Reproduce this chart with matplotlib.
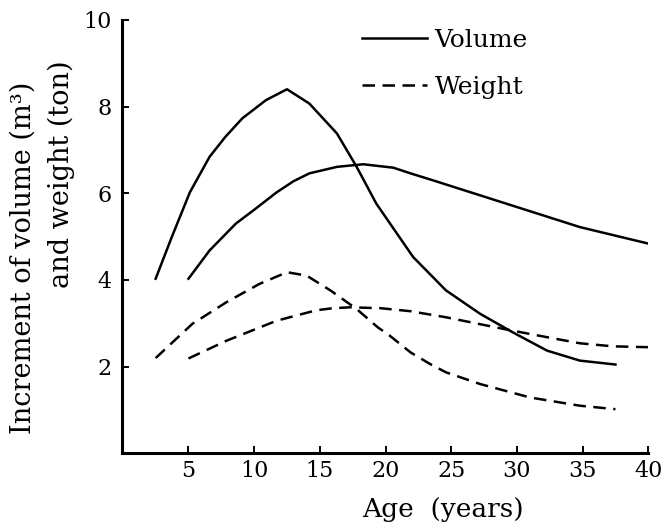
import matplotlib
matplotlib.use("Agg")
import matplotlib.pyplot as plt

# ---- data ----
vol1_age = [2.5, 3.7, 5.1, 6.6, 7.8, 9.1, 10.9, 12.5, 14.2, 16.3, 17.8, 19.3, 22.1, 24.6, 27.2, 29.7, 32.3, 34.8, 37.5]
vol1_val = [4.03, 4.97, 6.02, 6.84, 7.30, 7.73, 8.15, 8.40, 8.07, 7.38, 6.61, 5.76, 4.53, 3.76, 3.22, 2.79, 2.37, 2.14, 2.05]

vol2_age = [5.0, 6.6, 8.6, 10.0, 11.7, 13.0, 14.2, 16.3, 18.3, 20.6, 21.9, 23.6, 29.2, 34.8, 40.0]
vol2_val = [4.03, 4.68, 5.30, 5.62, 6.02, 6.28, 6.46, 6.61, 6.67, 6.59, 6.46, 6.30, 5.76, 5.22, 4.84]

wt1_age = [2.5, 5.3, 7.9, 10.4, 12.5, 14.0, 15.8, 17.8, 19.4, 20.3, 21.9, 23.4, 24.6, 27.2, 31.0, 34.8, 37.5]
wt1_val = [2.20, 2.99, 3.49, 3.91, 4.18, 4.10, 3.76, 3.33, 2.91, 2.72, 2.33, 2.06, 1.87, 1.60, 1.29, 1.10, 1.02]

wt2_age = [5.0, 7.9, 11.7, 14.7, 16.0, 17.3, 19.6, 21.9, 24.6, 29.0, 32.3, 34.8, 37.3, 40.0]
wt2_val = [2.19, 2.60, 3.06, 3.30, 3.35, 3.37, 3.35, 3.28, 3.14, 2.87, 2.68, 2.54, 2.47, 2.45]

x_ticks = [5, 10, 15, 20, 25, 30, 35, 40]
y_ticks = [2, 4, 6, 8, 10]
legend_labels = ["Volume", "Weight"]
x_label = "Age  (years)"
y_label_1 = "Increment of volume (m\u00b3)"
y_label_2 = "and weight (ton)"

# ---- figure ----
W, H = 661, 524
fig = plt.figure(figsize=(W / 100, H / 100), dpi=100)
plt.rcParams['font.family'] = ['DejaVu Serif']

ax = fig.add_axes([121.5 / W, (H - 453.4) / H, (648.3 - 121.5) / W, 433.5 / H])

lw = 1.8
dash = (5.0, 3.0)
l1, = ax.plot(vol1_age, vol1_val, color='black', lw=lw, solid_joinstyle='round')
ax.plot(vol2_age, vol2_val, color='black', lw=lw, solid_joinstyle='round')
l2, = ax.plot(wt1_age, wt1_val, color='black', lw=lw, dashes=dash)
ax.plot(wt2_age, wt2_val, color='black', lw=lw, dashes=dash)

ax.set_xlim(-0.1, 40)
ax.set_ylim(0, 10)
ax.set_xticks(x_ticks)
ax.set_yticks(y_ticks)
ax.set_xticklabels([str(t) for t in x_ticks])
ax.set_yticklabels([str(t) for t in y_ticks])

for s in ['top', 'right']:
    ax.spines[s].set_visible(False)
for s in ['left', 'bottom']:
    ax.spines[s].set_linewidth(2.2)
    ax.spines[s].set_capstyle('projecting')

ax.tick_params(axis='both', direction='in', length=5, width=1.4, labelsize=16, colors='black')
ax.tick_params(axis='y', pad=7)
ax.tick_params(axis='x', pad=5)

leg = ax.legend([l1, l2], legend_labels, loc='upper left',
                bbox_to_anchor=(362 / W, 1 - 29 / H), bbox_transform=fig.transFigure,
                frameon=False, borderpad=0, borderaxespad=0, fontsize=18,
                handlelength=2.6, handletextpad=0.3, labelspacing=0.95)

fig.text(362 / W, 1 - 509 / H, x_label, fontsize=19, ha='left', va='center')
fig.text(23 / W, 1 - 258 / H, y_label_1, fontsize=19.5, rotation=90, ha='center', va='center')
fig.text(61 / W, 1 - 174 / H, y_label_2, fontsize=19.5, rotation=90, ha='center', va='center')

fig.savefig("out.png", dpi=100)
